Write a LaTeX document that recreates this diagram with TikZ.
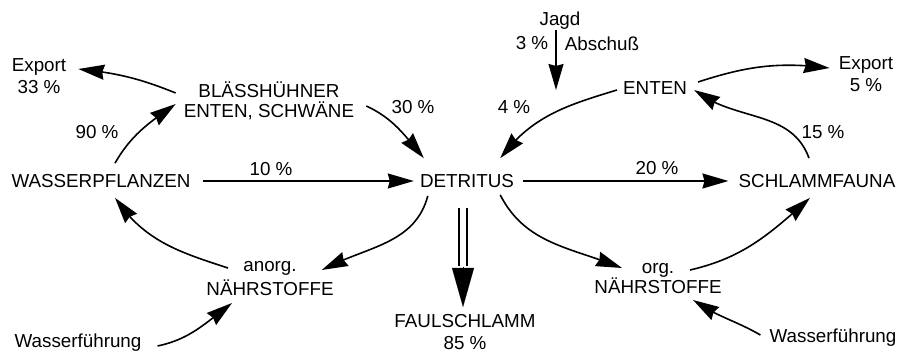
\documentclass[tikz,border=0pt]{standalone}
\usepackage{fontspec}
\setmainfont{Liberation Sans}
\usetikzlibrary{arrows.meta,bending}

\begin{document}
\begin{tikzpicture}[x=1pt,y=1pt,
  lbl/.style={font=\fontsize{18.8}{22}\selectfont, inner sep=0pt, align=center},
  flow/.style={line width=1.6pt, -{Stealth[length=26pt,width=15pt,inset=2pt]}},
  sink/.style={line width=1.4pt, double, double distance=6.3pt},
  sinkhead/.style={line width=0.1pt, -{Triangle[length=39pt,width=22pt]}}
]
\useasboundingbox (0,0) rectangle (899,353);

% compartments and labels
\node[lbl] (expL)  at (39,277)    {Export\\33 \%};
\node[lbl, font=\fontsize{18.8}{20}\selectfont] (bl) at (269,252) {BLÄSSHÜHNER\\ENTEN, SCHWÄNE};
\node[lbl] (p30)   at (413,245.5) {30 \%};
\node[lbl] (p90)   at (97,220.5)  {90 \%};
\node[lbl] (wp)    at (101,172)   {WASSERPFLANZEN};
\node[lbl] (p10)   at (271,184)   {10 \%};
\node[lbl] (det)   at (467,172)   {DETRITUS};
\node[lbl, font=\fontsize{18.8}{24}\selectfont] (anorg) at (270,74) {anorg.\\NÄHRSTOFFE};
\node[lbl] (wfL)   at (78,10)     {Wasserführung};
\node[lbl] (faul)  at (465,20.5)  {FAULSCHLAMM\\85 \%};
\node[lbl] (jagd)  at (560,332)   {Jagd};
\node[lbl] (p3)    at (532,309.5) {3 \%};
\node[lbl] (absch) at (602,309.5) {Abschuß};
\node[lbl] (enten) at (655,264.5) {ENTEN};
\node[lbl] (expR)  at (866,279)   {Export\\5 \%};
\node[lbl] (p4)    at (514,245.5) {4 \%};
\node[lbl] (p15)   at (823,220.5) {15 \%};
\node[lbl] (p20)   at (657,185)   {20 \%};
\node[lbl] (schl)  at (817,172)   {SCHLAMMFAUNA};
\node[lbl, font=\fontsize{18.8}{20}\selectfont] (org) at (658,74) {org.\\NÄHRSTOFFE};
\node[lbl] (wfR)   at (833,15)    {Wasserführung};
\coordinate (jend) at (556,263);

% left cycle
\draw[flow] ([shift={(-8,8)}]bl.west) to[out=158,in=-6] ([shift={(12,7)}]expL.east);
\draw[flow] ([shift={(14,11)}]wp.north) to[out=60,in=-145] ([shift={(-8,-3)}]bl.west);
\draw[flow] ([shift={(12,-5)}]bl.east) to[out=-25,in=130] ([shift={(4,16)}]det.north west);
\draw[flow] ([xshift=12]wp.east) -- ([xshift=-6]det.west);
\draw[flow] ([shift={(8,-8)}]det.south west) to[out=-105,in=28] ([shift={(-12,9)}]anorg.east);
\draw[flow] ([shift={(-42,11)}]anorg.center) to[out=162,in=-56] ([shift={(14,-10)}]wp.south);
\draw[flow] ([shift={(16,-3)}]wfL.east) to[out=12,in=-143] ([shift={(-38,-24)}]anorg.center);

% sedimentation
\draw[sink] ([shift={(-4,-27)}]det.center) -- ([shift={(-4,-85)}]det.center);
\draw[sinkhead] ([shift={(-4,-86)}]det.center) -- ([shift={(-2,25.5)}]faul.center);

% right cycle
\draw[flow] (jagd.south -| jend) -- (jend);
\draw[flow] ([shift={(-6,-1.5)}]enten.west) to[out=-163,in=53] ([shift={(-14,16)}]det.north east);
\draw[flow] ([shift={(11,6.5)}]enten.east) to[out=18,in=173] ([shift={(-9,6)}]expR.west);
\draw[flow] ([shift={(-8,16)}]schl.north) to[out=110,in=-38] ([shift={(7,-1.5)}]enten.east);
\draw[flow] ([xshift=9]det.east) -- ([xshift=-10]schl.west);
\draw[flow] ([shift={(-14,-7)}]det.south east) to[out=-63,in=158] ([shift={(-36,11)}]org.center);
\draw[flow] ([shift={(32,9)}]org.center) to[out=13,in=-138] ([shift={(-7,-10)}]schl.south);
\draw[flow] ([shift={(-9,3)}]wfR.west) to[out=150,in=-35] ([shift={(35,-21)}]org.center);
\end{tikzpicture}
\end{document}
